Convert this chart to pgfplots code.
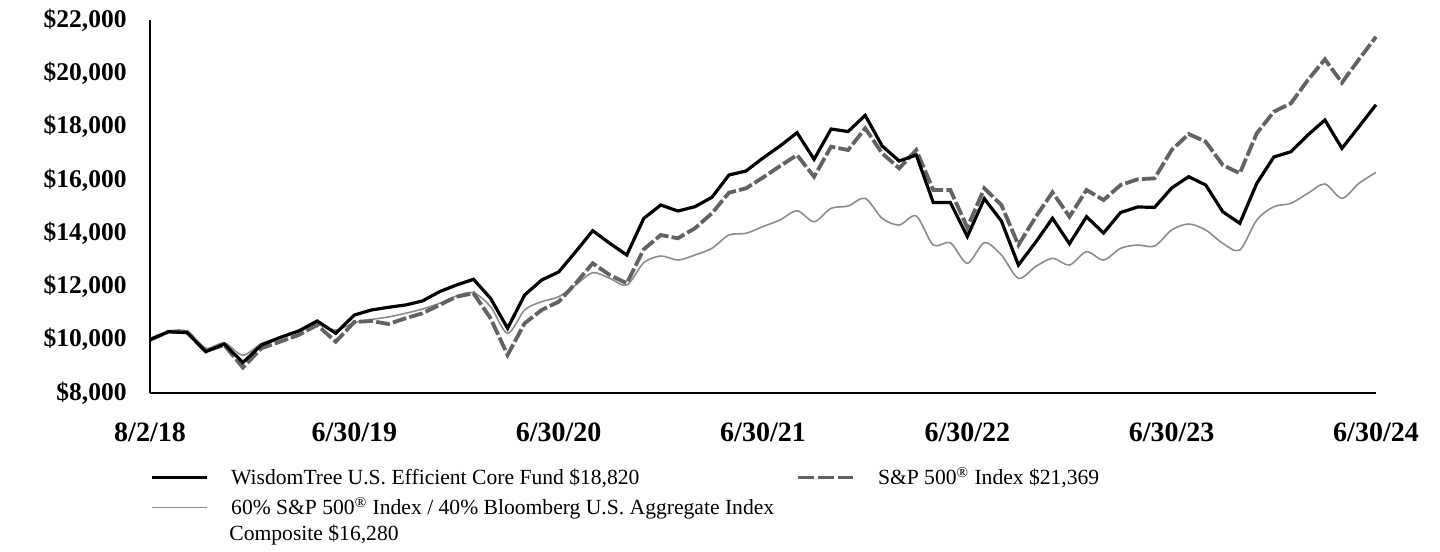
\documentclass[border=0pt]{standalone}
\usepackage{fontspec}
\setmainfont{Liberation Serif}
\usepackage{pgfplots}
\pgfplotsset{compat=1.18}
\usepackage{pgfplotstable}

\pgfplotstableread{
x fund sp mix
0 10000 10000 10000
1.0909 10301 10301 10310
2.1818 10263 10290 10320
3.2727 9550 9580 9680
4.3636 9839 9800 9880
5.4545 9145 8957 9420
6.5455 9801 9678 9860
7.6364 10083 9925 10080
8.7273 10327 10177 10300
9.8182 10702 10552 10560
10.9091 10241 9925 10360
12 10927 10665 10640
13 11115 10702 10760
14 11216 10590 10852
15 11303 10803 10991
16 11453 10991 11150
17 11802 11303 11366
18 12053 11614 11640
19 12267 11742 11760
20 11554 10803 11239
21 10428 9426 10241
22 11678 10616 11115
23 12241 11115 11426
24 12541 11426 11614
25 13303 12117 12053
26 14091 12868 12515
27 13618 12429 12305
28 13179 12117 12053
29 14556 13393 12890
30 15056 13930 13142
31 14830 13806 12991
32 14992 14181 13179
33 15345 14744 13431
34 16182 15517 13930
35 16332 15682 13994
36 16820 16088 14249
37 17270 16519 14493
38 17769 16932 14842
39 16771 16118 14429
40 17908 17244 14932
41 17814 17120 15018
42 18422 17934 15307
43 17270 16996 14556
44 16707 16433 14305
45 16932 17120 14643
46 15150 15619 13554
47 15150 15619 13641
48 13873 14211 12868
49 15292 15682 13641
50 14455 15056 13179
51 12804 13554 12305
52 13648 14594 12740
53 14556 15532 13055
54 13603 14617 12804
55 14617 15619 13303
56 14005 15243 12991
57 14774 15806 13431
58 14981 16020 13554
59 14969 16058 13517
60 15694 17120 14117
61 16118 17720 14343
62 15806 17431 14117
63 14804 16557 13618
64 14369 16245 13367
65 15870 17747 14493
66 16857 18557 14992
67 17056 18872 15119
68 17683 19747 15495
69 18246 20524 15844
70 17183 19646 15307
71 17994 20524 15870
72 18820 21369 16280
}\datatable

\definecolor{spgray}{HTML}{626262}
\definecolor{mixgray}{HTML}{8C8C8C}

\begin{document}
\begin{tikzpicture}
\useasboundingbox (0,0) rectangle (720bp,276bp);
\begin{axis}[
  at={(75bp,79.5bp)}, anchor=south west,
  scale only axis, width=613bp, height=186.5bp,
  xmin=0, xmax=72, ymin=8000, ymax=22000,
  scaled y ticks=false, scaled x ticks=false,
  axis x line*=bottom, axis y line*=left,
  x axis line style={line width=1.3bp, -},
  y axis line style={line width=1bp, -},
  major tick length=0pt,
  xtick={0,12,24,36,48,60,72},
  xticklabels={8/2/18,6/30/19,6/30/20,6/30/21,6/30/22,6/30/23,6/30/24},
  ytick={8000,10000,12000,14000,16000,18000,20000,22000},
  yticklabels={{\$8,000},{\$10,000},{\$12,000},{\$14,000},{\$16,000},{\$18,000},{\$20,000},{\$22,000}},
  xticklabel style={inner sep=0pt, anchor=north, yshift=-14.5bp, font=\fontsize{14bp}{16bp}\selectfont\bfseries},
  yticklabel style={inner sep=0pt, anchor=east, xshift=-11.5bp, font=\fontsize{12.75bp}{15bp}\selectfont\bfseries},
  clip=false,
  legend columns=2,
  legend cell align=left,
  legend style={at={(0,0)}, anchor=north west, yshift=-37bp, draw=none, fill=none,
    inner sep=0pt, outer sep=0pt, column sep=10bp, row sep=4.5bp,
    font=\fontsize{10.8bp}{12bp}\selectfont,
    nodes={inner sep=0pt}},
  legend image code/.code={\draw[#1] (0bp,0bp) -- (27.5bp,0bp); \path (29bp,0bp);},
]
\addlegendimage{black, line width=1.6bp}
\addlegendimage{spgray, line width=1.9bp, dash pattern=on 8bp off 2bp}
\addlegendimage{mixgray, line width=0.8bp}
\addlegendentry{\makebox[272.5bp][l]{\strut WisdomTree U.S. Efficient Core Fund \$18,820}}
\addlegendentry{\strut S\&P 500\textsuperscript{\textregistered} Index \$21,369}
\addlegendentry{\makebox[272.5bp][l]{\strut 60\% S\&P 500\textsuperscript{\textregistered} Index / 40\% Bloomberg U.S. Aggregate Index}}

\addplot[mixgray, line width=0.8bp, smooth, tension=0.5, forget plot] table[x=x, y=mix] {\datatable};
\addplot[spgray, line width=1.9bp, dash pattern=on 7bp off 1.6bp, forget plot] table[x=x, y=sp] {\datatable};
\addplot[black, line width=1.6bp, line join=miter, forget plot] table[x=x, y=fund] {\datatable};
\end{axis}
\node[anchor=base west, inner sep=0pt, font=\fontsize{10.8bp}{12bp}\selectfont] at (114.5bp,6bp) {Composite \$16,280};
\end{tikzpicture}
\end{document}
